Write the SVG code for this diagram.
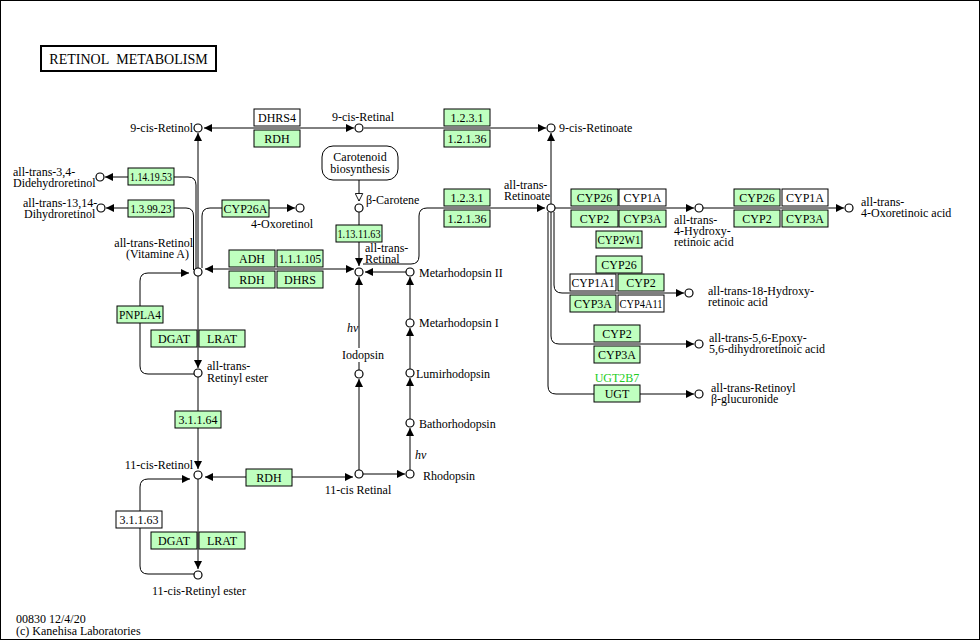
<svg xmlns="http://www.w3.org/2000/svg" width="980" height="640" viewBox="0 0 980 640">
<style>
.t{font-family:"Liberation Serif","Times New Roman",Times,serif;font-size:12px;fill:#000}
.c{text-anchor:middle}
.e{text-anchor:end}
.i{font-style:italic}
.g{fill:#bfffbf;stroke:#000;stroke-width:1}
.w{fill:#fff;stroke:#000;stroke-width:1}
.n{fill:#fff;stroke:#000;stroke-width:1.2}
.l{fill:none;stroke:#000;stroke-width:1}
</style>
<defs>
<marker id="a" viewBox="0 0 10 10" refX="10" refY="5" markerWidth="9" markerHeight="8" markerUnits="userSpaceOnUse" orient="auto-start-reverse"><path d="M0,0L10,5L0,10z" fill="#000"/></marker>
<marker id="o" viewBox="-1 -1 12 12" refX="10" refY="5" markerWidth="9" markerHeight="9" markerUnits="userSpaceOnUse" orient="auto"><path d="M0,0L10,5L0,10z" fill="#fff" stroke="#000" stroke-width="1.2"/></marker>
</defs>
<rect x="0.5" y="0.5" width="979" height="639" fill="#fff" stroke="#000" stroke-width="1"/>
<g id="title"><rect x="41" y="46" width="175" height="25" fill="#fff" stroke="#000" stroke-width="2"/><text class="t c" x="128.5" y="64" style="font-size:14px">RETINOL&#160; METABOLISM</text></g>

<g id="connectors" class="l">
<path d="M204,128H354" marker-start="url(#a)" marker-end="url(#a)"/>
<path d="M364,128H546" marker-end="url(#a)"/>
<path d="M198,268V133" marker-end="url(#a)"/>
<path d="M551,204V133" marker-end="url(#a)"/>
<path d="M196,269V185Q196,177 188,177H105" marker-end="url(#a)"/>
<path d="M193.5,270V216Q193.5,208 186,208H106" marker-end="url(#a)"/>
<path d="M202,268V216Q202,208 210,208H295" marker-end="url(#a)"/>
<path d="M205,269H354" marker-start="url(#a)" marker-end="url(#a)"/>
<path d="M194,374H148Q140,374 140,366V281Q140,273 148,273H189" marker-end="url(#a)"/>
<path d="M198,276V368" marker-end="url(#a)"/>
<path d="M198,377V469" marker-end="url(#a)"/>
<path d="M205,477H353" marker-start="url(#a)" marker-end="url(#a)"/>
<path d="M194,574H148Q140,574 140,566V487Q140,479 148,479H190" marker-end="url(#a)"/>
<path d="M198,479V569" marker-end="url(#a)"/>
<path d="M359,180V201" marker-end="url(#o)"/>
<path d="M359,212V266" marker-end="url(#a)"/>
<path d="M406,272H365" marker-end="url(#a)"/>
<path d="M363,264H411Q419,264 419,256V216Q419,208 427,208H545" marker-end="url(#a)"/>
<path d="M359,470V379" marker-end="url(#a)"/>
<path d="M359,370V362M359,348V277" marker-end="url(#a)"/>
<path d="M363,474H405" marker-end="url(#a)"/>
<path d="M410,470V428" marker-end="url(#a)"/>
<path d="M410,419V378" marker-end="url(#a)"/>
<path d="M410,369V328" marker-end="url(#a)"/>
<path d="M410,319V277" marker-end="url(#a)"/>
<path d="M555,208H694" marker-end="url(#a)"/>
<path d="M703,208H844" marker-end="url(#a)"/>
<path d="M554,212V285Q554,293 562,293H684" marker-end="url(#a)"/>
<path d="M551,212V336Q551,344 559,344H694" marker-end="url(#a)"/>
<path d="M548,212V386Q548,394 556,394H694" marker-end="url(#a)"/>
</g>

<g id="carotenoid"><rect x="322" y="146" width="76" height="34" rx="11" class="w"/><text class="t c" x="360" y="161">Carotenoid</text><text class="t c" x="360" y="173">biosynthesis</text></g>

<g id="e_DHRS4"><rect x="254" y="109" width="46" height="17" class="w"/><text class="t c" x="277" y="122">DHRS4</text></g>
<g id="e_RDH1"><rect x="254" y="130" width="46" height="17" class="g"/><text class="t c" x="277" y="143">RDH</text></g>
<g id="e_1231a"><rect x="444" y="109" width="46" height="17" class="g"/><text class="t c" x="467" y="122">1.2.3.1</text></g>
<g id="e_12136a"><rect x="444" y="130" width="46" height="17" class="g"/><text class="t c" x="467" y="143">1.2.1.36</text></g>
<g id="e_1231b"><rect x="444" y="189" width="46" height="17" class="g"/><text class="t c" x="467" y="202">1.2.3.1</text></g>
<g id="e_12136b"><rect x="444" y="210" width="46" height="17" class="g"/><text class="t c" x="467" y="223">1.2.1.36</text></g>
<g id="e_11411963"><rect x="336" y="225" width="46" height="17" class="g"/><text class="t c" x="359" y="238" textLength="43" lengthAdjust="spacingAndGlyphs">1.13.11.63</text></g>
<g id="e_11419953"><rect x="128" y="168" width="46" height="17" class="g"/><text class="t c" x="151" y="181" textLength="42" lengthAdjust="spacingAndGlyphs">1.14.19.53</text></g>
<g id="e_139923"><rect x="128" y="200" width="46" height="17" class="g"/><text class="t c" x="151" y="213" textLength="41" lengthAdjust="spacingAndGlyphs">1.3.99.23</text></g>
<g id="e_CYP26A"><rect x="222" y="200" width="47" height="17" class="g"/><text class="t c" x="245.5" y="213">CYP26A</text></g>
<g id="e_ADH"><rect x="229" y="250" width="46" height="17" class="g"/><text class="t c" x="252" y="263">ADH</text></g>
<g id="e_111105"><rect x="277" y="250" width="46" height="17" class="g"/><text class="t c" x="300" y="263" textLength="42" lengthAdjust="spacingAndGlyphs">1.1.1.105</text></g>
<g id="e_RDH2"><rect x="229" y="271" width="46" height="17" class="g"/><text class="t c" x="252" y="284">RDH</text></g>
<g id="e_DHRS"><rect x="277" y="271" width="46" height="17" class="g"/><text class="t c" x="300" y="284">DHRS</text></g>
<g id="e_PNPLA4"><rect x="117" y="306" width="46" height="17" class="g"/><text class="t c" x="140" y="319" textLength="42" lengthAdjust="spacingAndGlyphs">PNPLA4</text></g>
<g id="e_DGAT1"><rect x="151" y="330" width="46" height="17" class="g"/><text class="t c" x="174" y="343">DGAT</text></g>
<g id="e_LRAT1"><rect x="199" y="330" width="46" height="17" class="g"/><text class="t c" x="222" y="343">LRAT</text></g>
<g id="e_31164"><rect x="175" y="411" width="46" height="17" class="g"/><text class="t c" x="198" y="424">3.1.1.64</text></g>
<g id="e_RDH3"><rect x="246" y="469" width="46" height="17" class="g"/><text class="t c" x="269" y="482">RDH</text></g>
<g id="e_31163"><rect x="116" y="511" width="46" height="17" class="w"/><text class="t c" x="139" y="524">3.1.1.63</text></g>
<g id="e_DGAT2"><rect x="151" y="532" width="46" height="17" class="g"/><text class="t c" x="174" y="545">DGAT</text></g>
<g id="e_LRAT2"><rect x="199" y="532" width="46" height="17" class="g"/><text class="t c" x="222" y="545">LRAT</text></g>

<g id="e_CYP26a"><rect x="571" y="189" width="47" height="17" class="g"/><text class="t c" x="594.5" y="202">CYP26</text></g>
<g id="e_CYP1Aa"><rect x="619" y="189" width="47" height="17" class="w"/><text class="t c" x="642.5" y="202">CYP1A</text></g>
<g id="e_CYP2a"><rect x="571" y="210" width="47" height="17" class="g"/><text class="t c" x="594.5" y="223">CYP2</text></g>
<g id="e_CYP3Aa"><rect x="619" y="210" width="47" height="17" class="g"/><text class="t c" x="642.5" y="223">CYP3A</text></g>
<g id="e_CYP2W1"><rect x="596" y="231" width="46" height="17" class="g"/><text class="t c" x="619" y="244" textLength="43" lengthAdjust="spacingAndGlyphs">CYP2W1</text></g>
<g id="e_CYP26b"><rect x="596" y="256" width="46" height="17" class="g"/><text class="t c" x="619" y="269">CYP26</text></g>
<g id="e_CYP1A1"><rect x="570" y="274" width="46" height="17" class="w"/><text class="t c" x="593" y="287" textLength="43" lengthAdjust="spacingAndGlyphs">CYP1A1</text></g>
<g id="e_CYP2b"><rect x="618" y="274" width="46" height="17" class="g"/><text class="t c" x="641" y="287">CYP2</text></g>
<g id="e_CYP3Ab"><rect x="570" y="295" width="46" height="17" class="g"/><text class="t c" x="593" y="308">CYP3A</text></g>
<g id="e_CYP4A11"><rect x="618" y="295" width="46" height="17" class="w"/><text class="t c" x="641" y="308" textLength="43" lengthAdjust="spacingAndGlyphs">CYP4A11</text></g>
<g id="e_CYP26c"><rect x="734" y="189" width="46" height="17" class="g"/><text class="t c" x="757" y="202">CYP26</text></g>
<g id="e_CYP1Ac"><rect x="782" y="189" width="46" height="17" class="w"/><text class="t c" x="805" y="202">CYP1A</text></g>
<g id="e_CYP2c"><rect x="734" y="210" width="46" height="17" class="g"/><text class="t c" x="757" y="223">CYP2</text></g>
<g id="e_CYP3Ac"><rect x="782" y="210" width="46" height="17" class="g"/><text class="t c" x="805" y="223">CYP3A</text></g>
<g id="e_CYP2d"><rect x="594" y="325" width="46" height="17" class="g"/><text class="t c" x="617" y="338">CYP2</text></g>
<g id="e_CYP3Ad"><rect x="594" y="346" width="46" height="17" class="g"/><text class="t c" x="617" y="359">CYP3A</text></g>
<g id="e_UGT"><text class="t c" x="617" y="382" style="fill:#22cc22">UGT2B7</text><rect x="594" y="385" width="46" height="17" class="g"/><text class="t c" x="617" y="398">UGT</text></g>

<g id="n_9cisRetinol"><circle cx="198" cy="128" r="4" class="n"/><text class="t e" x="193" y="132">9-cis-Retinol</text></g>
<g id="n_9cisRetinal"><circle cx="359" cy="128" r="4" class="n"/><text class="t c" x="363" y="121">9-cis-Retinal</text></g>
<g id="n_9cisRetinoate"><circle cx="551" cy="128" r="4" class="n"/><text class="t" x="559" y="132">9-cis-Retinoate</text></g>
<g id="n_didehydro"><circle cx="100" cy="177" r="4" class="n"/><text class="t" x="13" y="176">all-trans-3,4-</text><text class="t" x="13" y="187">Didehydroretinol</text></g>
<g id="n_dihydro"><circle cx="101" cy="208" r="4" class="n"/><text class="t" x="23" y="207">all-trans-13,14-</text><text class="t" x="24" y="218">Dihydroretinol</text></g>
<g id="n_oxoretinol"><circle cx="300" cy="208" r="4" class="n"/><text class="t" x="251" y="228">4-Oxoretinol</text></g>
<g id="n_atRetinol"><circle cx="198" cy="272" r="4" class="n"/><text class="t e" x="193" y="247">all-trans-Retinol</text><text class="t e" x="189" y="258">(Vitamine A)</text></g>
<g id="n_bCarotene"><circle cx="359" cy="208" r="4" class="n"/><text class="t" x="366" y="204">β-Carotene</text></g>
<g id="n_atRetinal"><circle cx="359" cy="272" r="4" class="n"/><text class="t" x="365" y="252">all-trans-</text><text class="t" x="365" y="263">Retinal</text></g>
<g id="n_atRetinoate"><circle cx="551" cy="208" r="4" class="n"/><text class="t" x="504" y="189">all-trans-</text><text class="t" x="504" y="200">Retinoate</text></g>
<g id="n_4OH"><circle cx="699" cy="208" r="4" class="n"/><text class="t" x="674" y="224">all-trans-</text><text class="t" x="674" y="235">4-Hydroxy-</text><text class="t" x="674" y="246">retinoic acid</text></g>
<g id="n_4oxo"><circle cx="849" cy="208" r="4" class="n"/><text class="t" x="861" y="206">all-trans-</text><text class="t" x="861" y="217">4-Oxoretinoic acid</text></g>
<g id="n_18OH"><circle cx="689" cy="293" r="4" class="n"/><text class="t" x="708" y="295">all-trans-18-Hydroxy-</text><text class="t" x="708" y="306">retinoic acid</text></g>
<g id="n_epoxy"><circle cx="699" cy="344" r="4" class="n"/><text class="t" x="709" y="342">all-trans-5,6-Epoxy-</text><text class="t" x="709" y="353">5,6-dihydroretinoic acid</text></g>
<g id="n_gluc"><circle cx="699" cy="394" r="4" class="n"/><text class="t" x="711" y="392">all-trans-Retinoyl</text><text class="t" x="711" y="403">β-glucuronide</text></g>
<g id="n_atEster"><circle cx="198" cy="373" r="4" class="n"/><text class="t" x="207" y="370">all-trans-</text><text class="t" x="207" y="382">Retinyl ester</text></g>
<g id="n_MII"><circle cx="410" cy="272" r="4" class="n"/><text class="t" x="419" y="277">Metarhodopsin II</text></g>
<g id="n_MI"><circle cx="410" cy="323" r="4" class="n"/><text class="t" x="419" y="327">Metarhodopsin I</text></g>
<g id="n_lumi"><circle cx="410" cy="373" r="4" class="n"/><text class="t" x="416" y="378">Lumirhodopsin</text></g>
<g id="n_batho"><circle cx="410" cy="423" r="4" class="n"/><text class="t" x="419" y="428">Bathorhodopsin</text></g>
<g id="n_rhod"><circle cx="410" cy="474" r="4" class="n"/><text class="t" x="423" y="480">Rhodopsin</text><text class="t i" x="415" y="459">hv</text></g>
<g id="n_iodopsin"><circle cx="359" cy="374" r="4" class="n"/><text class="t c" x="363" y="359">Iodopsin</text><text class="t i" x="347" y="332">hv</text></g>
<g id="n_11cisRetinal"><circle cx="359" cy="474" r="4" class="n"/><text class="t c" x="358" y="494">11-cis Retinal</text></g>
<g id="n_11cisRetinol"><circle cx="198" cy="475" r="4" class="n"/><text class="t e" x="193" y="469">11-cis-Retinol</text></g>
<g id="n_11cisEster"><circle cx="198" cy="575" r="4" class="n"/><text class="t c" x="199" y="595">11-cis-Retinyl ester</text></g>

<g id="footer"><text class="t" x="16" y="623">00830 12/4/20</text><text class="t" x="16" y="635">(c) Kanehisa Laboratories</text></g>
</svg>
